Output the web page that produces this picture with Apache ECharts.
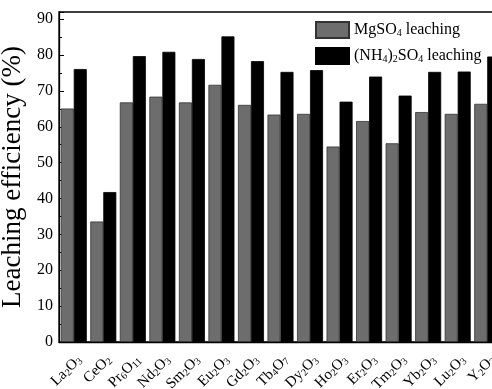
<!DOCTYPE html>
<html><head><meta charset="utf-8">
<script src="https://cdn.jsdelivr.net/npm/echarts@6/dist/echarts.min.js"></script>
<style>html,body{margin:0;padding:0;background:#fff}#c{width:492px;height:389px}</style>
</head><body><div id="c"></div>
<script>
const categories = ['La2O3','CeO2','Pr6O11','Nd2O3','Sm2O3','Eu2O3','Gd2O3','Tb4O7','Dy2O3','Ho2O3','Er2O3','Tm2O3','Yb2O3','Lu2O3','Y2O3'];
const mgso4 = [65.1, 33.6, 66.8, 68.4, 66.8, 71.7, 66.1, 63.4, 63.6, 54.5, 61.6, 55.4, 64.1, 63.6, 66.4];
const nh4so4 = [76.1, 41.8, 79.7, 80.9, 78.9, 85.2, 78.3, 75.3, 75.8, 67.0, 74.0, 68.7, 75.3, 75.4, 79.6];
const seriesNames = ['MgSO4 leaching', '(NH4)2SO4 leaching'];
const yTicks = [0,10,20,30,40,50,60,70,80,90];

const FONT = '"Liberation Serif", "Times New Roman", serif';
const sub = s => s.replace(/(\d+)/g, '{s|$1}').replace(/^([^{]+)/, '{m|$1}').replace(/\}([^{]+)/g, '}{m|$1}');

const chart = echarts.init(document.getElementById('c'), null, {renderer: 'canvas'});
chart.setOption({
  animation: false,
  backgroundColor: '#fff',
  grid: {left: 59, top: 12, bottom: 47, right: -10, show: true, borderColor: '#000', borderWidth: 1.3, containLabel: false, outerBoundsMode: 'none'},
  legend: {
    orient: 'vertical', left: 315, top: 21, padding: 0, itemWidth: 33, itemHeight: 16, itemGap: 8,
    icon: 'rect',
    data: seriesNames,
    formatter: n => sub(n),
    textStyle: {fontFamily: FONT, fontSize: 16, color: '#000',
      rich: {m: {fontFamily: FONT, fontSize: 16, color: '#000'},
             s: {fontFamily: FONT, fontSize: 10, color: '#000', verticalAlign: 'bottom', padding: [7,0,0,0]}}}
  },
  xAxis: {
    type: 'category', data: categories,
    axisLine: {show: true, lineStyle: {color: '#000', width: 1.3}},
    axisTick: {show: false},
    axisLabel: {
      interval: 0, rotate: 45, margin: 10, align: 'right', verticalAlign: 'top', color: '#000', fontFamily: FONT, fontSize: 15,
      formatter: v => sub(v),
      rich: {m: {fontFamily: FONT, fontSize: 15, color: '#000'},
             s: {fontFamily: FONT, fontSize: 10, color: '#000', verticalAlign: 'bottom', padding: [6,0,0,0]}}
    }
  },
  yAxis: {
    type: 'value', min: 0, max: 92, interval: 10,
    name: 'Leaching efficiency (%)', nameLocation: 'middle', nameGap: 20,
    nameTextStyle: {fontFamily: FONT, fontSize: 27, color: '#000'},
    axisLine: {show: true, lineStyle: {color: '#000', width: 1.3}},
    axisTick: {show: true, inside: true, length: 5, lineStyle: {color: '#000'}},
    minorTick: {show: true, splitNumber: 2, length: 3, lineStyle: {color: '#000'}},
    splitLine: {show: false},
    axisLabel: {color: '#000', fontFamily: FONT, fontSize: 16, margin: 6,
      formatter: v => yTicks.includes(v) ? String(v) : ''}
  },
  series: [
    {name: seriesNames[0], type: 'bar', data: mgso4, barWidth: 13, barGap: '0%',
     itemStyle: {color: '#6d6d6d', borderColor: '#333', borderWidth: 0.8}},
    {name: seriesNames[1], type: 'bar', data: nh4so4, barWidth: 13, barGap: '0%',
     itemStyle: {color: '#000', borderColor: '#000', borderWidth: 0.8}}
  ]
});
</script></body></html>
